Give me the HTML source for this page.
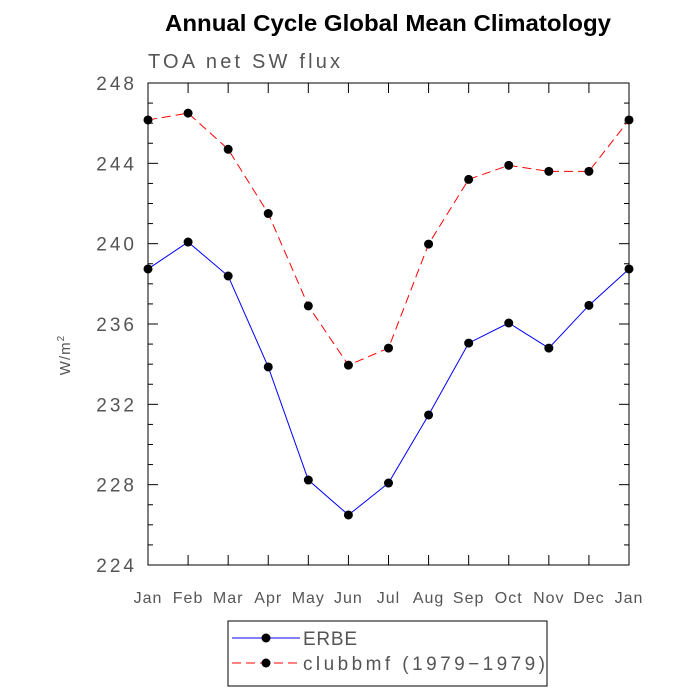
<!DOCTYPE html>
<html><head><meta charset="utf-8"><style>
body{margin:0;background:#fff;}
svg{display:block;font-family:"Liberation Sans",sans-serif;}
</style></head><body>
<svg id="chart" width="700" height="700" viewBox="0 0 700 700">
<text x="388" y="31" text-anchor="middle" font-size="23" font-weight="bold" textLength="446" lengthAdjust="spacingAndGlyphs">Annual Cycle Global Mean Climatology</text>
<text x="148" y="68" font-size="20" fill="#555" textLength="192">TOA net SW flux</text>
<text transform="translate(70,355) rotate(-90)" text-anchor="middle" font-size="15" fill="#555" letter-spacing="1">W/m<tspan font-size="10" dy="-6">2</tspan></text>
<rect x="148" y="83" width="481" height="482" fill="none" stroke="#000" stroke-width="1"/>
<g id="axes"></g>
<g id="series"></g>
<g>
<rect x="228" y="621" width="319" height="65" fill="none" stroke="#000"/>
<line x1="232" y1="638" x2="300" y2="638" stroke="#0000ff"/>
<circle cx="266" cy="638" r="4.5"/>
<text x="303" y="645" font-size="19" fill="#555" textLength="54">ERBE</text>
<line x1="232" y1="663" x2="300" y2="663" stroke="#ff0000" stroke-dasharray="9,5"/>
<circle cx="266" cy="663" r="4.5"/>
<text x="303" y="670" font-size="19" fill="#555" textLength="242">clubbmf (1979−1979)</text>
</g>
</svg>
<script>
const months=["Jan","Feb","Mar","Apr","May","Jun","Jul","Aug","Sep","Oct","Nov","Dec","Jan"];
const erbe=[238.74,240.08,238.39,233.86,228.23,226.49,228.08,231.47,235.05,236.05,234.8,236.93,238.74];
const clubb=[246.16,246.5,244.7,241.5,236.9,233.95,234.8,239.98,243.2,243.9,243.6,243.6,246.16];
const yTicks=[224,228,232,236,240,244,248];
const NS="http://www.w3.org/2000/svg";
const X0=148,X1=629,Y0=565,Y1=83,YMIN=224,YMAX=248;
const xs=i=>X0+(X1-X0)*i/(months.length-1);
const ys=v=>Y0-(v-YMIN)/(YMAX-YMIN)*(Y0-Y1);
function mk(t,a,p){const e=document.createElementNS(NS,t);for(const k in a)e.setAttribute(k,a[k]);p.appendChild(e);return e;}
const ax=document.getElementById('axes');
months.forEach((m,i)=>{
 const x=xs(i);
 mk('line',{x1:x,y1:Y0,x2:x,y2:Y0-10,stroke:'#000'},ax);
 mk('line',{x1:x,y1:Y1,x2:x,y2:Y1+10,stroke:'#000'},ax);
 const t=mk('text',{x:x,y:603,'text-anchor':'middle','font-size':16,fill:'#555','letter-spacing':1},ax);
 
 
 t.textContent=m;
});
for(let v=YMIN;v<=YMAX;v++){
 const y=ys(v),maj=(v%4===0),L=maj?10:5;
 mk('line',{x1:X0,y1:y,x2:X0+L,y2:y,stroke:'#000'},ax);
 mk('line',{x1:X1,y1:y,x2:X1-L,y2:y,stroke:'#000'},ax);
}
yTicks.forEach(v=>{
 const t=mk('text',{x:137,y:ys(v)+7,'text-anchor':'end','font-size':19,fill:'#555','letter-spacing':3},ax);
 
 
 t.textContent=v;
});
const sg=document.getElementById('series');
function series(vals,color,dash,name){
 const p=mk('polyline',{points:vals.map((v,i)=>xs(i)+','+ys(v)).join(' '),fill:'none',stroke:color,'stroke-width':1},sg);
 if(dash)p.setAttribute('stroke-dasharray',dash);
 
 
 vals.forEach((v,i)=>{
  const c=mk('circle',{cx:xs(i),cy:ys(v),r:4.5,fill:'#000'},sg);
  
  
 });
}
series(erbe,'#0000ff',null,'erbe');
series(clubb,'#ff0000','9,5','clubbmf');
</script>
</body></html>
